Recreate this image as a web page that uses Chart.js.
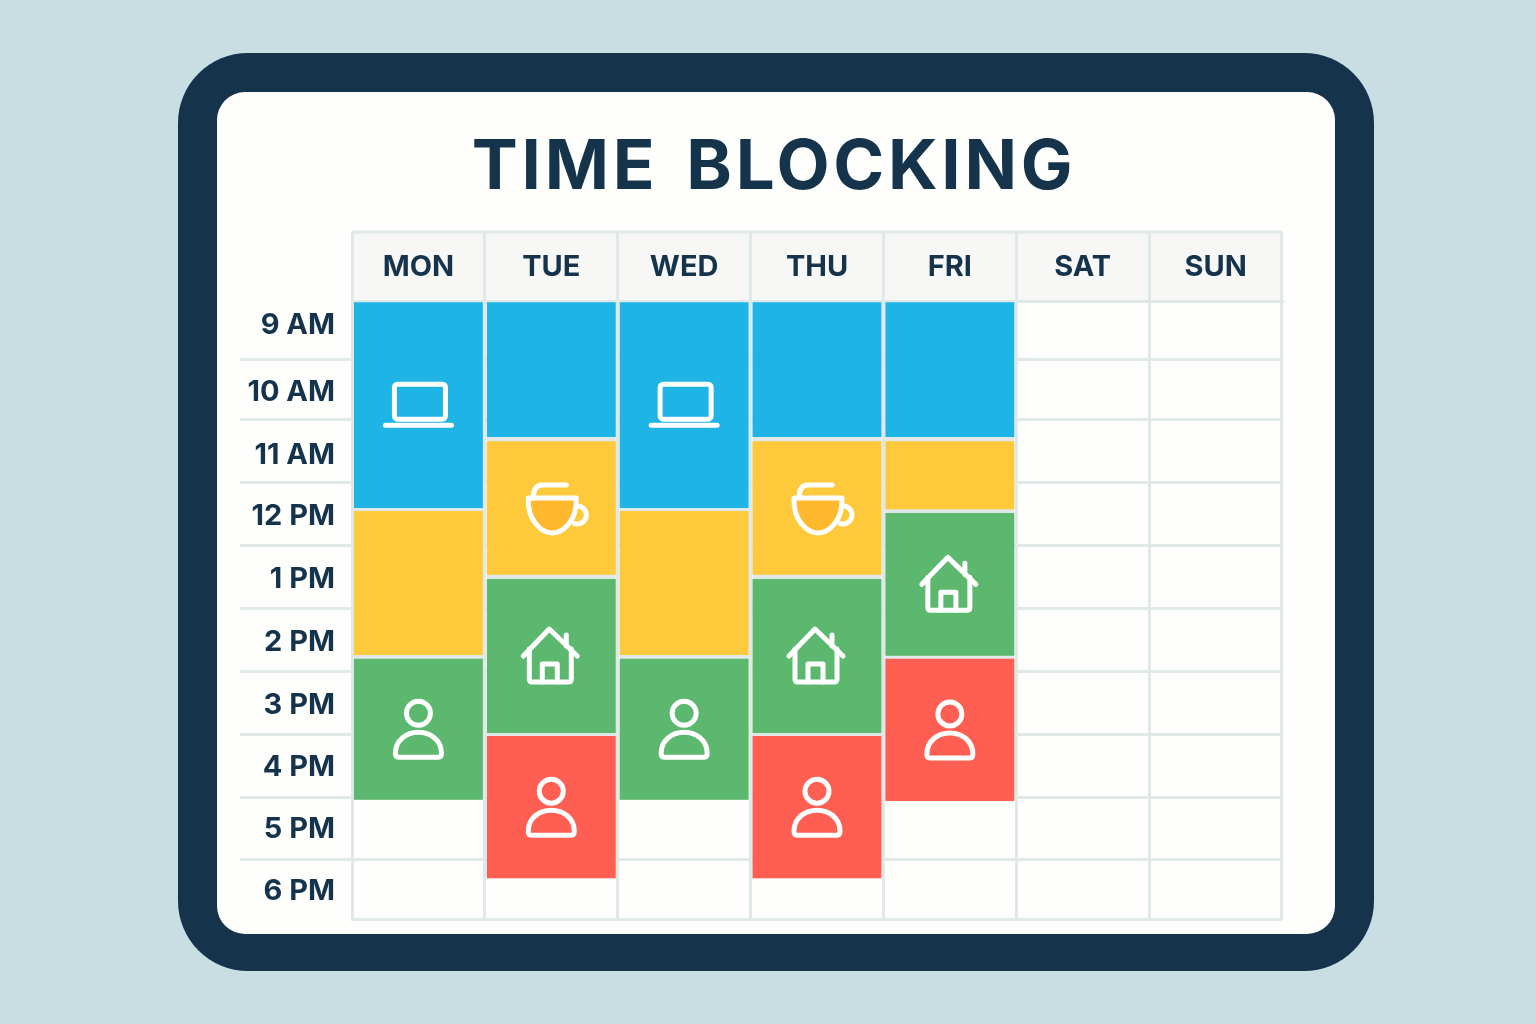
<!DOCTYPE html>
<html>
<head>
<meta charset="utf-8">
<title>Time Blocking</title>
<script src="https://cdn.jsdelivr.net/npm/chart.js@4"></script>
<style>
  html, body { margin: 0; padding: 0; background: #c8dee3; }
  canvas { display: block; }
</style>
</head>
<body>
<canvas id="chart" width="1536" height="1024"></canvas>
<script>
// schedule data (hours on a 24h clock)
const days = ["MON", "TUE", "WED", "THU", "FRI", "SAT", "SUN"];
const hourLabels = ["9 AM", "10 AM", "11 AM", "12 PM", "1 PM", "2 PM", "3 PM", "4 PM", "5 PM", "6 PM"];
const hourLabelPositions = [9.39, 10.47, 11.49, 12.49, 13.51, 14.52, 15.54, 16.54, 17.55, 18.55];
const rowEdges = [9, 9.94, 10.91, 11.94, 12.96, 13.98, 15.0, 16.02, 17.03, 18.03, 19];

const blueBlocks = [[9.02, 12.35], [9.02, 11.2], [9.02, 12.35], [9.02, 11.2], [9.02, 11.2], null, null];
const yellowBlocks = [[12.4, 14.73], [11.27, 13.43], [12.4, 14.73], [11.27, 13.43], [11.27, 12.37], null, null];
const greenBlocks = [[14.79, 17.07], [13.5, 15.99], [14.79, 17.07], [13.5, 15.99], [12.43, 14.74], null, null];
const redBlocks = [null, [16.04, 18.34], null, [16.04, 18.34], [14.79, 17.09], null, null];
// full span of each filled column, shows through the gaps between blocks
const columnSpans = [[9.02, 17.07], [9.02, 18.34], [9.02, 17.07], [9.02, 18.34], [9.02, 17.09], null, null];

const blueIcons = ["laptop", null, "laptop", null, null, null, null];
const yellowIcons = [null, "cup", null, "cup", null, null, null];
const greenIcons = ["person", "home", "person", "home", "home", null, null];
const redIcons = [null, "person", null, "person", "person", null, null];

const NAVY = "#15344c";
const LINE = "#e0e8e8";

function roundedBox(ctx, x, y, w, h, r, fill) {
  ctx.beginPath();
  ctx.roundRect(x, y, w, h, r);
  ctx.fillStyle = fill;
  ctx.fill();
}

// Icon painters, drawn around the centre of a bar
const iconPainters = {
  laptop(ctx) {
    ctx.beginPath();
    ctx.roundRect(-24, -21, 51, 35, 3);
    ctx.stroke();
    ctx.beginPath();
    ctx.moveTo(-33, 20);
    ctx.lineTo(33, 20);
    ctx.stroke();
  },
  cup(ctx) {
    ctx.beginPath();
    ctx.moveTo(-23, -10);
    ctx.bezierCurveTo(-24, 12, -10, 25, 1, 25);
    ctx.bezierCurveTo(12, 25, 26, 12, 25, -10);
    ctx.closePath();
    ctx.fillStyle = "#ffb92e";
    ctx.fill();
    ctx.stroke();
    ctx.beginPath();
    ctx.arc(26, 7, 9, -Math.PI * 0.45, Math.PI * 0.6);
    ctx.stroke();
    ctx.beginPath();
    ctx.moveTo(-18, -10);
    ctx.quadraticCurveTo(-18, -23, -9, -23);
    ctx.lineTo(15, -23);
    ctx.stroke();
  },
  home(ctx) {
    ctx.beginPath();
    ctx.moveTo(-28, 0);
    ctx.lineTo(-2, -27);
    ctx.lineTo(26, 0);
    ctx.stroke();
    ctx.beginPath();
    ctx.moveTo(-22, -7);
    ctx.lineTo(-22, 23);
    ctx.quadraticCurveTo(-22, 26, -19, 26);
    ctx.lineTo(17, 26);
    ctx.quadraticCurveTo(20, 26, 20, 23);
    ctx.lineTo(20, -7);
    ctx.stroke();
    ctx.beginPath();
    ctx.moveTo(-9, 26);
    ctx.lineTo(-9, 8);
    ctx.lineTo(6, 8);
    ctx.lineTo(6, 26);
    ctx.stroke();
    ctx.beginPath();
    ctx.moveTo(15, -21);
    ctx.lineTo(15, -10);
    ctx.stroke();
  },
  person(ctx) {
    ctx.beginPath();
    ctx.arc(0, -16, 12, 0, Math.PI * 2);
    ctx.stroke();
    ctx.beginPath();
    ctx.moveTo(-20, 28);
    ctx.quadraticCurveTo(-23, 28, -23, 24);
    ctx.bezierCurveTo(-23, 11, -12, 3, 0, 3);
    ctx.bezierCurveTo(12, 3, 23, 11, 23, 24);
    ctx.quadraticCurveTo(23, 28, 20, 28);
    ctx.closePath();
    ctx.stroke();
  },
};

// Card behind the chart, header row, and the wide title spacing
const cardPlugin = {
  id: "card",
  beforeDraw(chart) {
    const { ctx, chartArea } = chart;
    ctx.save();
    ctx.fillStyle = "#c8dee3";
    ctx.fillRect(0, 0, chart.width, chart.height);
    roundedBox(ctx, 178, 53, 1196, 918, 70, NAVY);
    roundedBox(ctx, 217, 92, 1118, 842, 28, "#fefefc");
    ctx.fillStyle = "#f7f7f5";
    ctx.fillRect(chartArea.left, 232, chartArea.right - chartArea.left, chartArea.top - 232);
    ctx.strokeStyle = LINE;
    ctx.lineWidth = 3;
    ctx.beginPath();
    ctx.moveTo(chartArea.left, 232);
    ctx.lineTo(chartArea.right, 232);
    ctx.stroke();
    ctx.restore();

    if (!chart.titleBlock.spaced) {
      const drawTitle = chart.titleBlock.draw;
      chart.titleBlock.spaced = true;
      chart.titleBlock.draw = function () {
        ctx.save();
        ctx.translate(13, 0);
        ctx.letterSpacing = "3.7px";
        ctx.wordSpacing = "8px";
        drawTitle.call(this);
        ctx.restore();
      };
    }
  },
};

const iconPlugin = {
  id: "icons",
  afterDatasetsDraw(chart) {
    const { ctx } = chart;
    chart.data.datasets.forEach((dataset, i) => {
      if (!dataset.icons) return;
      chart.getDatasetMeta(i).data.forEach((bar, d) => {
        const paint = iconPainters[dataset.icons[d]];
        if (!paint) return;
        const { x, y, base } = bar.getProps(["x", "y", "base"]);
        ctx.save();
        ctx.translate(x, (y + base) / 2);
        ctx.strokeStyle = "#ffffff";
        ctx.lineWidth = 5;
        ctx.lineCap = "round";
        ctx.lineJoin = "round";
        paint(ctx);
        ctx.restore();
      });
    });
  },
};

function makeDataset(label, blocks, color, icons) {
  return {
    label,
    data: blocks,
    icons,
    backgroundColor: color,
    barPercentage: 0.97,
    categoryPercentage: 1,
    grouped: false,
  };
}

new Chart(document.getElementById("chart"), {
  type: "bar",
  data: {
    labels: days,
    datasets: [
      makeDataset("Blue", blueBlocks, "#1eb4e6", blueIcons),
      makeDataset("Yellow", yellowBlocks, "#ffc93c", yellowIcons),
      makeDataset("Green", greenBlocks, "#5cb86e", greenIcons),
      makeDataset("Red", redBlocks, "#ff5e52", redIcons),
      makeDataset("Column", columnSpans, LINE),
    ],
  },
  options: {
    responsive: false,
    devicePixelRatio: 1,
    animation: false,
    layout: { padding: { left: 240, right: 254, top: 0, bottom: 105 } },
    plugins: {
      legend: { display: false },
      tooltip: { enabled: false },
      title: {
        display: true,
        text: "TIME BLOCKING",
        color: NAVY,
        font: { family: "Inter", size: 69, weight: "700" },
        padding: { top: 127, bottom: 0 },
      },
    },
    scales: {
      x: {
        position: "top",
        afterFit: (axis) => { axis.height = 91.2; },
        grid: { offset: true, color: LINE, lineWidth: 3, tickLength: 69 },
        border: { color: LINE, width: 3 },
        ticks: {
          color: NAVY,
          font: { family: "Inter", size: 29, weight: "700" },
          padding: -53,
          autoSkip: false,
          maxRotation: 0,
        },
      },
      y: {
        reverse: true,
        min: 9,
        max: 19,
        afterFit: (axis) => { axis.width = 112; },
        afterBuildTicks: (axis) => {
          axis.ticks = [...rowEdges, ...hourLabelPositions]
            .sort((a, b) => a - b)
            .map((value) => ({ value }));
        },
        grid: {
          lineWidth: 3,
          tickLength: 112,
          color: (c) => (rowEdges.includes(c.tick.value) ? LINE : "transparent"),
          tickColor: (c) =>
            rowEdges.slice(1, -1).includes(c.tick.value) ? LINE : "transparent",
        },
        border: { color: LINE, width: 3 },
        ticks: {
          color: NAVY,
          font: { family: "Inter", size: 29, weight: "700" },
          padding: -95,
          autoSkip: false,
          callback: (value) => {
            const i = hourLabelPositions.indexOf(value);
            return i < 0 ? "" : hourLabels[i];
          },
        },
      },
    },
  },
  plugins: [cardPlugin, iconPlugin],
});
</script>
</body>
</html>
